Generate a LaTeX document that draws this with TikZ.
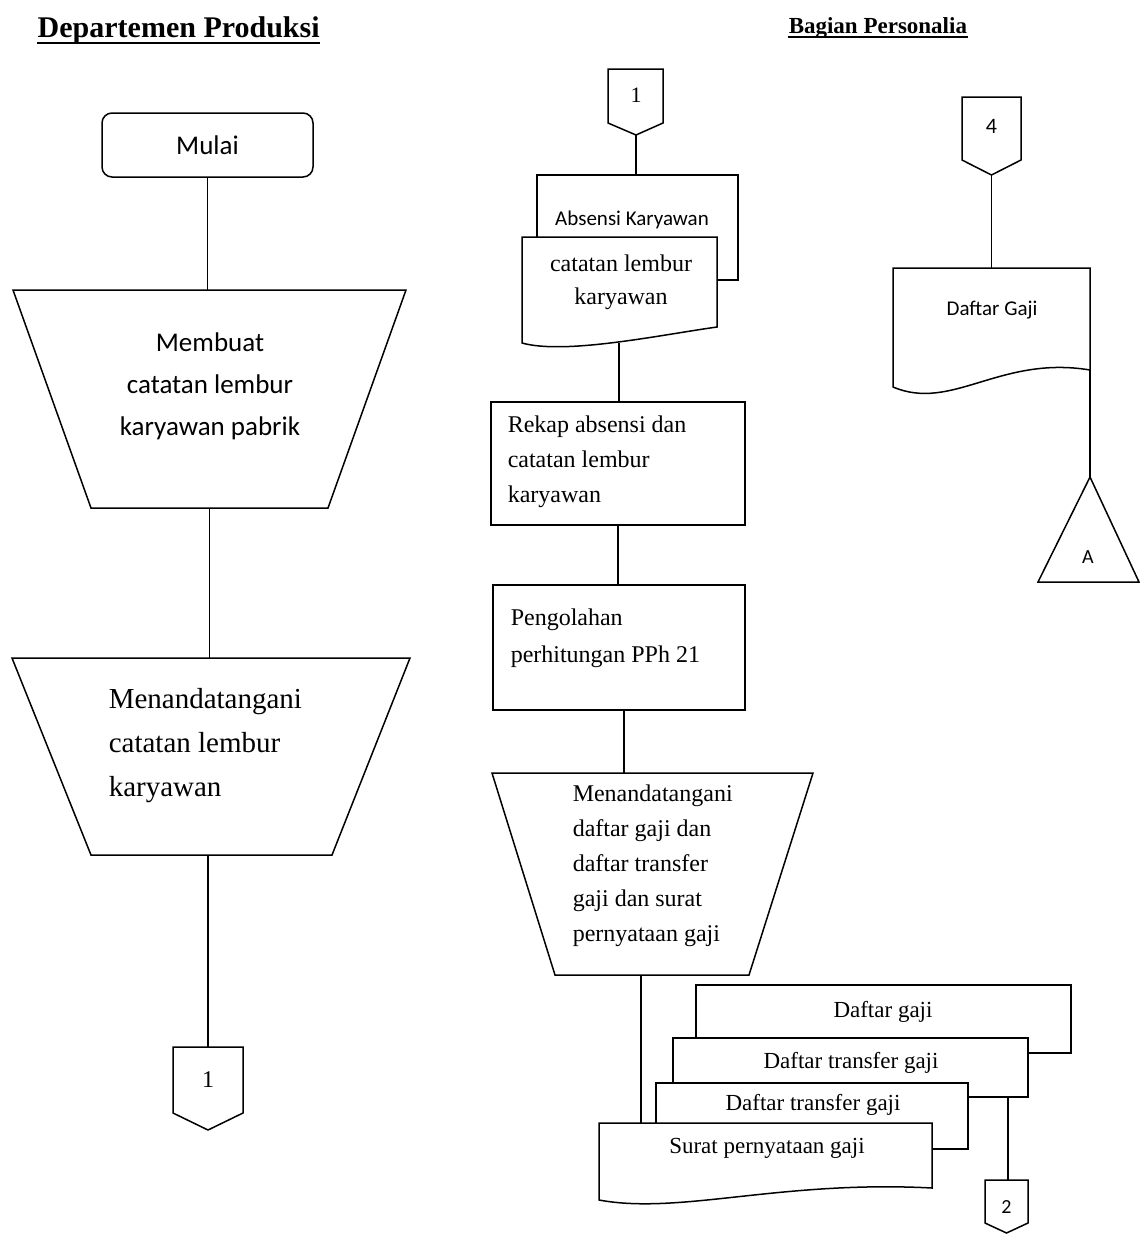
\documentclass[tikz,border=0pt]{standalone}
\usepackage{fontspec}
\setmainfont{Liberation Serif}
\newfontfamily\sansf{Carlito}
\newcommand{\myfs}[2]{\fontsize{#1}{#2}\selectfont}
\begin{document}
\begin{tikzpicture}[x=1pt,y=-1pt,line width=1.5pt,line join=miter,
  shp/.style={draw,fill=white},
  txt/.style={inner sep=0pt,align=left},
  ctxt/.style={inner sep=0pt,align=center}]
\useasboundingbox[fill=white] (0,0) rectangle (1140,1235);

% ---------- titles ----------
\node[inner sep=0pt,anchor=base west,font=\bfseries\myfs{30}{36}] (ttlA) at (37,37) {Departemen Produksi};
\draw[line width=1.8pt] ([yshift=-6pt]ttlA.base west) -- ([yshift=-6pt]ttlA.base east);
\node[inner sep=0pt,anchor=base west,font=\bfseries\myfs{23}{28}] (ttlB) at (788,33) {Bagian Personalia};
\draw[line width=1.4pt] ([yshift=-4pt]ttlB.base west) -- ([yshift=-4pt]ttlB.base east);

% ---------- left column ----------
\node[shp,rounded corners=10pt,minimum width=211pt,minimum height=64pt,inner sep=0pt,
      font=\sansf\myfs{27}{32}] (mulai) at (207.5,145) {Mulai};

\draw[shp] (13,290) -- (406,290) -- (328,508) -- (91,508) -- cycle;
\coordinate (p1top) at (207.5,290);
\coordinate (p1bot) at (209.5,508);
\node[ctxt,font=\sansf\myfs{27}{42}] (p1) at (210,386) {Membuat\\catatan lembur\\karyawan pabrik};

\draw[shp] (12,658) -- (410,658) -- (332,855) -- (91,855) -- cycle;
\coordinate (p2top) at (209.5,658);
\coordinate (p2bot) at (208,855);
\node[txt,anchor=west,font=\myfs{29}{44}] (p2) at (108,746) {Menandatangani\\catatan lembur\\karyawan};

\draw[shp] (173,1047) -- (243,1047) -- (243,1113) -- (208,1130) -- (173,1113) -- cycle;
\coordinate (c1top) at (208,1047);
\node[ctxt,font=\myfs{24}{28}] (c1) at (208,1080) {1};

\draw (mulai.south) -- (p1top);
\draw (p1bot) -- (p2top);
\draw (p2bot) -- (c1top);

% ---------- middle column ----------
\draw[shp] (608,69) -- (663,69) -- (663,123) -- (636,135) -- (608,123) -- cycle;
\coordinate (c1bbot) at (636,135);
\node[ctxt,font=\myfs{22}{26}] (c1b) at (636,95) {1};

\draw[shp] (537,175) rectangle (738,280);
\coordinate (abstop) at (636,175);
\node[ctxt,font=\sansf\myfs{21}{25}] (abs) at (632,220) {Absensi Karyawan};

\draw[shp] (522,237) -- (717,237) -- (717,327) .. controls (660,335) and (565,355) .. (522,343) -- cycle;
\coordinate (catbot) at (619,343);
\node[ctxt,font=\myfs{24}{33}] (cat) at (621,282) {catatan lembur\\karyawan};

\node[draw,minimum width=254pt,minimum height=123pt,inner sep=0pt] (rekap) at (618,463.5) {};
\node[txt,anchor=west,font=\myfs{24}{35}] (rekapT) at (507,462) {Rekap absensi dan\\catatan lembur\\karyawan};

\node[draw,minimum width=252pt,minimum height=125pt,inner sep=0pt] (olah) at (619,647.5) {};
\node[txt,anchor=west,font=\myfs{24}{37}] (olahT) at (510,638.5) {Pengolahan\\perhitungan PPh 21};

\draw[shp] (492,773) -- (813,773) -- (749,975) -- (555,975) -- cycle;
\coordinate (p3top) at (624,773);
\coordinate (p3bot) at (641,975);
\node[txt,anchor=west,font=\myfs{24}{35}] (p3) at (572,866) {Menandatangani\\daftar gaji dan\\daftar transfer\\gaji dan surat\\pernyataan gaji};

% document stack
\draw[shp] (696,985) rectangle (1071,1053);
\node[ctxt,font=\myfs{23}{27}] (dg) at (883,1012) {Daftar gaji};
\draw[shp] (673,1038) rectangle (1028,1097);
\coordinate (dt1bot) at (1008,1097);
\node[ctxt,font=\myfs{23}{27}] (dt1) at (851,1063) {Daftar transfer gaji};
\draw[shp] (656,1083) rectangle (968,1149);
\node[ctxt,font=\myfs{23}{27}] (dt2) at (813,1105) {Daftar transfer gaji};
\draw[shp] (599,1123) -- (932,1123) -- (932,1188) .. controls (780,1180) and (680,1215) .. (599,1200) -- cycle;
\coordinate (surtop) at (641,1123);
\node[ctxt,font=\myfs{23}{27}] (sur) at (767,1148) {Surat pernyataan gaji};

\draw[shp] (985,1180) -- (1028,1180) -- (1028,1223) -- (1006.5,1233) -- (985,1223) -- cycle;
\coordinate (c2top) at (1008,1180);
\node[ctxt,font=\sansf\myfs{20}{24}] (c2) at (1006.5,1207) {2};

\draw (c1bbot) -- (abstop);
\draw (catbot) -- (rekap.north -| catbot);
\draw (rekap.south) -- (olah.north -| rekap.south);
\draw (olah.south -| p3top) -- (p3top);
\draw (p3bot) -- (surtop);
\draw (dt1bot) -- (c2top);

% ---------- right column ----------
\draw[shp] (962,97) -- (1021,97) -- (1021,160) -- (991.5,175) -- (962,160) -- cycle;
\coordinate (c4bot) at (991.5,175);
\node[ctxt,font=\sansf\myfs{22}{26}] (c4) at (991.5,126) {4};

\draw[shp] (893,268) -- (1090,268) -- (1090,370) .. controls (1000,355) and (952,412) .. (893,387) -- cycle;
\coordinate (dgtop) at (991.5,268);
\coordinate (dgbot) at (1090,370);
\node[ctxt,font=\sansf\myfs{21}{25}] (dgj) at (992,310) {Daftar Gaji};

\draw[shp] (1090,477) -- (1139,582) -- (1038,582) -- cycle;
\coordinate (triA) at (1090,477);
\node[ctxt,font=\sansf\myfs{20}{24}] (tA) at (1088,557) {A};

\draw (c4bot) -- (dgtop);
\draw (dgbot) -- (triA);
\end{tikzpicture}
\end{document}
